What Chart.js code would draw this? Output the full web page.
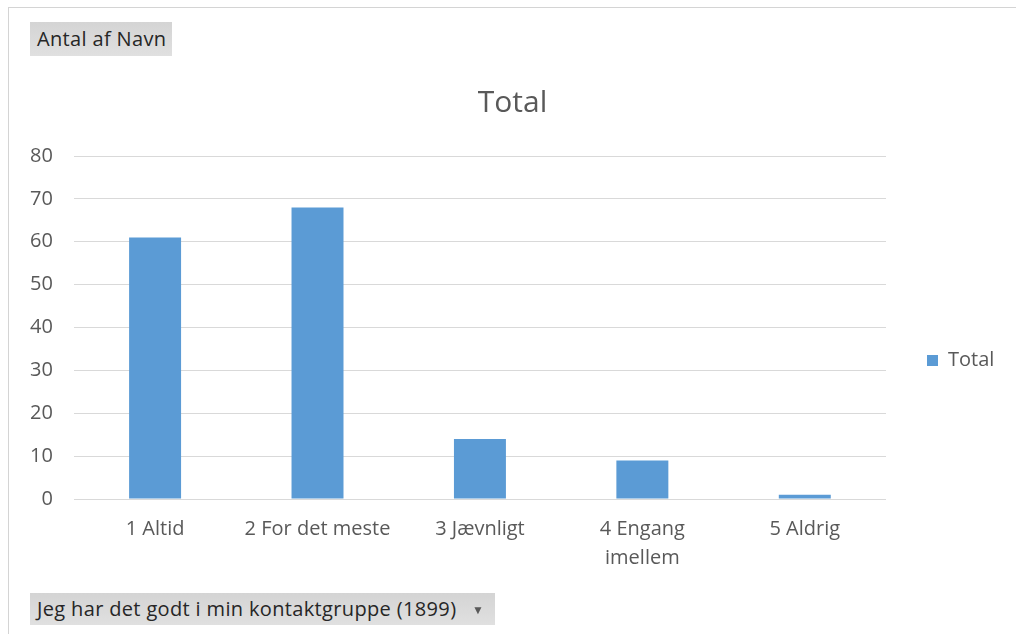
<!DOCTYPE html>
<html>
<head>
<meta charset="utf-8">
<script src="https://cdn.jsdelivr.net/npm/chart.js"></script>
<style>
	body { margin: 0; background: #fff; font-family: 'Open Sans', sans-serif; }
	#wrap { position: relative; width: 1016px; height: 634px; overflow: hidden; }
	#frame { position: absolute; left: 8px; top: 7px; width: 1100px; height: 700px; border-top: 1px solid #d4d4d4; border-left: 1px solid #d4d4d4; }
	canvas { position: absolute; left: 0; top: 0; }
	.btn { position: absolute; background: linear-gradient(#d4d4d4, #e0e0e0); color: #262626; font-size: 20px; letter-spacing: 0.35px; white-space: nowrap; box-sizing: border-box; }
	#fieldValue { left: 30px; top: 22px; width: 142px; height: 34px; line-height: 34px; padding-left: 7px; }
	#fieldAxis { left: 30px; top: 593px; width: 465px; height: 32px; line-height: 32px; padding-left: 7px; }
	#fieldAxis .arrow { position: absolute; left: 442px; top: 1px; font-size: 12px; color: #595959; }
</style>
</head>
<body>
<div id="wrap">
	<div id="frame"></div>
	<canvas id="figure_total" width="1016" height="634"></canvas>
	<div class="btn" id="fieldValue">Antal af Navn</div>
	<div class="btn" id="fieldAxis">Jeg har det godt i min kontaktgruppe (1899)<span class="arrow">&#9660;</span></div>
</div>
<script>
const categories = ['1 Altid', '2 For det meste', '3 Jævnligt', ['4 Engang', 'imellem'], '5 Aldrig'];
const totals = [61, 68, 14, 9, 1];
const yTicks = [0, 10, 20, 30, 40, 50, 60, 70, 80];

const textColour = '#595959';

// legend sits further right and lower than chart.js would put it
const legendShift = {
	id: 'legendShift',
	beforeInit(chart) {
		const fit = chart.legend.fit;
		chart.legend.fit = function () {
			fit.bind(chart.legend)();
			this.width = 130;
		};
	},
	afterLayout(chart) {
		chart.legend.left += 31;
		chart.legend.top += 70;
		chart.legend.bottom += 70;
	}
};

document.addEventListener("DOMContentLoaded", () => {
	Chart.defaults.font.family = "'Open Sans', sans-serif";
	Chart.defaults.color = textColour;

	new Chart(
		document.getElementById('figure_total'),
		{
			type: 'bar',
			data: {
				labels: categories,
				datasets: [{
					label: 'Total',
					data: totals,
					backgroundColor: '#5b9bd5',
					categoryPercentage: 1,
					barPercentage: 0.32
				}]
			},
			options: {
				responsive: false,
				animation: false,
				devicePixelRatio: 1,
				layout: {
					padding: { left: 9, right: 0, top: 0, bottom: 53 }
				},
				scales: {
					x: {
						grid: { display: false },
						border: { display: false },
						ticks: {
							padding: 8,
							maxRotation: 0,
							font: { size: 20, lineHeight: 1.45 }
						}
					},
					y: {
						min: 0,
						max: 80,
						afterBuildTicks: axis => { axis.ticks = yTicks.map(v => ({ value: v })); },
						grid: { color: '#d9d9d9', drawTicks: false },
						border: { display: false },
						ticks: {
							padding: 21,
							font: { size: 20 }
						}
					}
				},
				plugins: {
					title: {
						display: true,
						text: 'Total',
						color: textColour,
						font: { size: 30, weight: 'normal', lineHeight: 1.2 },
						padding: { top: 85, bottom: 35 }
					},
					legend: {
						display: true,
						position: 'right',
						align: 'center',
						labels: {
							boxWidth: 11,
							boxHeight: 11,
							padding: 10,
							color: textColour,
							font: { size: 20 }
						}
					},
					tooltip: { enabled: false }
				}
			},
			plugins: [legendShift]
		}
	);
});
</script>
</body>
</html>
